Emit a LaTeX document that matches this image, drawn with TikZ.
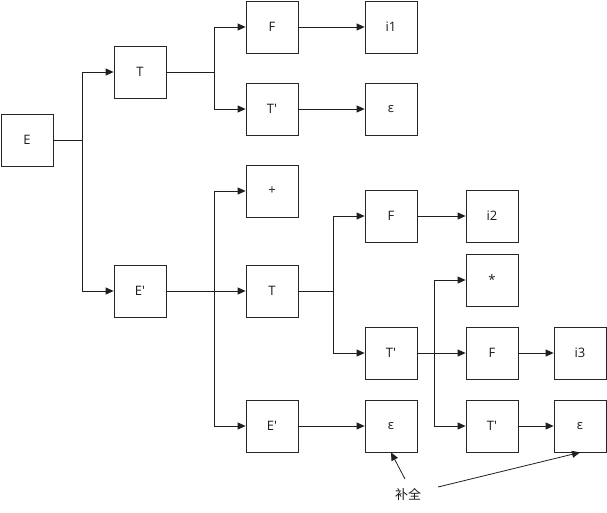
\documentclass[tikz,border=0pt]{standalone}
\usepackage{fontspec}
\setmainfont{Open Sans}[Ligatures=TeXOff]
\newfontfamily\cjk{Noto Sans CJK SC}
\usetikzlibrary{arrows.meta}
\begin{document}
\begin{tikzpicture}[x=1pt,y=-1pt,
  box/.style={draw=black!85, line width=0.8pt, minimum width=52pt, minimum height=52pt, inner sep=0pt, text=black!90, font=\fontsize{13}{15}\selectfont},
  conn/.style={draw=black!88, line width=0.8pt, -{Triangle[length=8pt,width=7pt]}},
  plain/.style={draw=black!88, line width=0.8pt}]
\useasboundingbox (0,0) rectangle (607,512);
% nodes
\node[box] (E) at (27,140) {E};
\node[box] (T1) at (140,72) {T};
\node[box] (Ep1) at (140,291) {E'};
\node[box] (F1) at (272,27) {F};
\node[box] (Tp1) at (272,109) {T'};
\node[box] (i1) at (391,27) {i1};
\node[box] (eps1) at (391,109) {ε};
\node[box] (plus) at (272,191) {+};
\node[box] (T2) at (272,291) {T};
\node[box] (Ep2) at (272,426) {E'};
\node[box] (F2) at (391,216) {F};
\node[box] (i2) at (492,216) {i2};
\node[box] (star) at (492,280) {*};
\node[box] (Tp2) at (391,353) {T'};
\node[box] (F3) at (492,353) {F};
\node[box] (i3) at (580,353) {i3};
\node[box] (eps2) at (391,426) {ε};
\node[box] (Tp3) at (492,426) {T'};
\node[box] (eps3) at (580,426) {ε};
\node[font=\cjk\fontsize{13}{15}\selectfont, text=black!90] (bq) at (408,494) {补全};
% branch points
\coordinate (bE) at (82,140);
\coordinate (bT1) at (214,72);
\coordinate (bEp1) at (214,291);
\coordinate (bT2) at (333,291);
\coordinate (bTp2) at (434,353);
\coordinate (a1) at (405,479);
\coordinate (a2) at (438,487);
% connectors
\draw[plain] (E.east) -- (bE);
\draw[conn] (bE) |- (T1.west);
\draw[conn] (bE) |- (Ep1.west);
\draw[plain] (T1.east) -- (bT1);
\draw[conn] (bT1) |- (F1.west);
\draw[conn] (bT1) |- (Tp1.west);
\draw[conn] (F1) -- (i1);
\draw[conn] (Tp1) -- (eps1);
\draw[plain] (Ep1.east) -- (bEp1);
\draw[conn] (bEp1) |- (plus.west);
\draw[conn] (bEp1) -- (T2.west);
\draw[conn] (bEp1) |- (Ep2.west);
\draw[plain] (T2.east) -- (bT2);
\draw[conn] (bT2) |- (F2.west);
\draw[conn] (bT2) |- (Tp2.west);
\draw[conn] (F2) -- (i2);
\draw[plain] (Tp2.east) -- (bTp2);
\draw[conn] (bTp2) |- (star.west);
\draw[conn] (bTp2) -- (F3.west);
\draw[conn] (bTp2) |- (Tp3.west);
\draw[conn] (F3) -- (i3);
\draw[conn] (Tp3) -- (eps3);
\draw[conn] (Ep2) -- (eps2);
\draw[conn] (a1) -- (eps2.south);
\draw[conn] (a2) -- (eps3.south);
\end{tikzpicture}
\end{document}
